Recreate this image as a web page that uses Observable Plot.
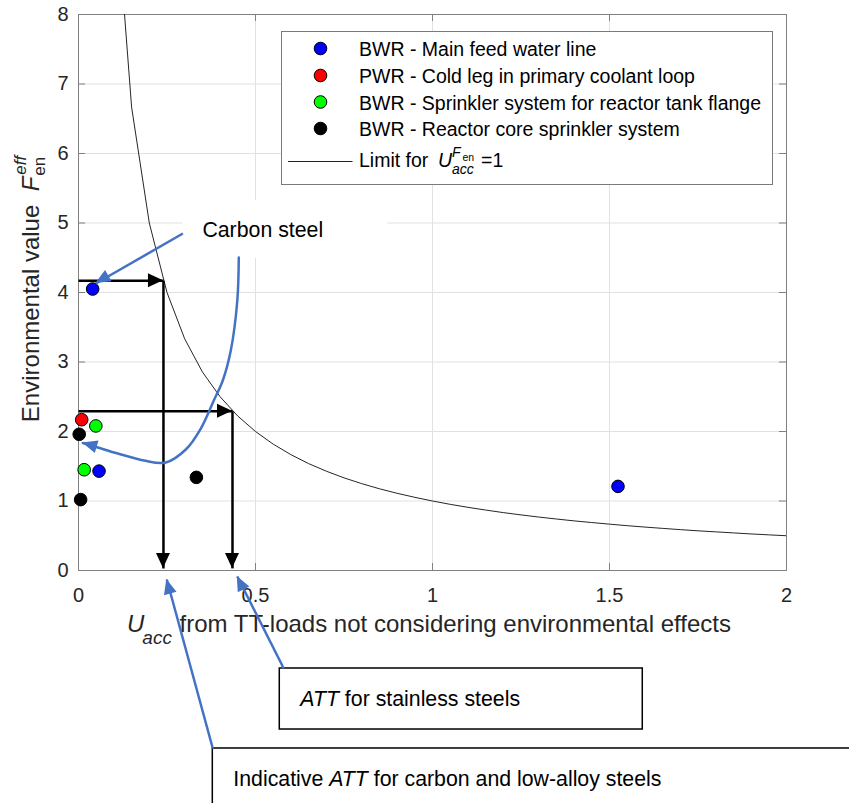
<!DOCTYPE html>
<html>
<head>
<meta charset="utf-8">
<script src="https://cdn.jsdelivr.net/npm/d3@7"></script>
<script src="https://cdn.jsdelivr.net/npm/@observablehq/plot@0.6"></script>
<style>
  html, body { margin: 0; padding: 0; background: #fff; overflow: hidden; }
  #chart { position: relative; width: 849px; height: 803px; overflow: hidden; }
  #chart svg { display: block; max-width: none; }
</style>
</head>
<body>
<div id="chart"></div>
<script>
const FONT = "'Liberation Sans', Arial, Helvetica, sans-serif";

// ---------- data ----------
const seriesNames = [
  "BWR - Main feed water line",
  "PWR - Cold leg in primary coolant loop",
  "BWR - Sprinkler system for reactor tank flange",
  "BWR - Reactor core sprinkler system"
];
const seriesColors = ["#0000ff", "#ff0000", "#00ff00", "#000000"];

const bwrFeedU = [0.040, 0.058, 1.524];
const bwrFeedF = [4.05, 1.43, 1.21];
const pwrColdU = [0.009];
const pwrColdF = [2.17];
const bwrFlangeU = [0.049, 0.016];
const bwrFlangeF = [2.08, 1.45];
const bwrCoreU = [0.002, 0.006, 0.333];
const bwrCoreF = [1.96, 1.02, 1.34];

// Limit curve U * F = 1 (as sampled in the original figure)
const limitU = [0.10,0.15,0.20,0.25,0.30,0.35,0.40,0.45,0.50,0.55,0.60,0.65,0.70,0.75,0.80,0.85,0.90,0.95,1.00,
                1.05,1.10,1.15,1.20,1.25,1.30,1.35,1.40,1.45,1.50,1.55,1.60,1.65,1.70,1.75,1.80,1.85,1.90,1.95,2.00];
const limitF = [10,6.667,5,4,3.333,2.857,2.5,2.222,2,1.818,1.667,1.538,1.429,1.333,1.25,1.176,1.111,1.053,1,
                0.952,0.909,0.870,0.833,0.8,0.769,0.741,0.714,0.690,0.667,0.645,0.625,0.606,0.588,0.571,0.556,0.541,0.526,0.513,0.5];

// ATT points on the limit curve (carbon steel, stainless steel)
const attU = [0.24, 0.435];
const attF = [4.17, 2.29];

// ticks
const xTicks = [0, 0.5, 1, 1.5, 2];
const xTickLabels = ["0", "0.5", "1", "1.5", "2"];
const yTicks = [0, 1, 2, 3, 4, 5, 6, 7, 8];

// ---------- annotation geometry (data units) ----------
const carbonBox = {x1: 0.2946, x2: 0.8737, y1: 5.324, y2: 4.489};
const stainlessBox = {x1: 0.5686, x2: 1.594, y1: -1.410, y2: -2.288};
const indicativeBox = {x1: 0.3794, x2: 2.25, y1: -2.561, y2: -3.70};
const blueStraight = [
  {x1: 0.2949, y1: 4.849, x2: 0.0489, y2: 4.129},   // Carbon steel -> point
  {x1: 0.5799, y1: -1.410, x2: 0.4486, y2: -0.086}, // stainless box -> axis
  {x1: 0.3794, y1: -2.561, x2: 0.2494, y2: -0.130}  // indicative box -> axis
];
const blueCurveU = [0.4528,0.4486,0.4302,0.4076,0.3822,0.3455,0.3031,0.2466,0.1845,0.1110,0.0545,0.0121];
const blueCurveF = [4.504,3.885,3.165,2.734,2.446,2.043,1.741,1.554,1.583,1.683,1.770,1.835];

// ---------- tables ----------
const seriesU = [bwrFeedU, pwrColdU, bwrFlangeU, bwrCoreU];
const seriesF = [bwrFeedF, pwrColdF, bwrFlangeF, bwrCoreF];
const points = seriesNames.flatMap((s, i) => seriesU[i].map((u, j) => ({series: s, u, f: seriesF[i][j]})));
const limit = limitU.map((u, i) => ({u, f: limitF[i]}));
const att = attU.map((u, i) => ({u, f: attF[i]}));
const blueCurve = blueCurveU.map((u, i) => ({u, f: blueCurveF[i]}));

const BLUE = "#4472c4";

function sx(scales) { return typeof scales.x === "function" ? scales.x : (v) => scales.scales.x.apply(v); }
function sy(scales) { return typeof scales.y === "function" ? scales.y : (v) => scales.scales.y.apply(v); }

function heads(list, color, len, halfW) {
  return (index, scales) => {
    const X = sx(scales), Y = sy(scales);
    const g = d3.create("svg:g").attr("fill", color).attr("stroke", "none");
    for (const h of list) {
      const tx = X(h.x2), ty = Y(h.y2), fx = X(h.x1), fy = Y(h.y1);
      const dx = tx - fx, dy = ty - fy, L = Math.hypot(dx, dy);
      const ux = dx / L, uy = dy / L;
      const bx = tx - ux * len, by = ty - uy * len;
      g.append("path").attr("d",
        `M${tx},${ty}L${bx - uy * halfW},${by + ux * halfW}L${bx + uy * halfW},${by - ux * halfW}Z`);
    }
    return g.node();
  };
}

const blackHeads = [
  ...att.map(d => ({x1: 0, y1: d.f, x2: d.u, y2: d.f})),
  ...att.map(d => ({x1: d.u, y1: d.f, x2: d.u, y2: 0.03}))
];
const n = blueCurve.length;
const blueHeadList = [
  ...blueStraight,
  {x1: blueCurve[n - 2].u, y1: blueCurve[n - 2].f, x2: blueCurve[n - 1].u, y2: blueCurve[n - 1].f}
];

// legend + axis labels (layout in pixels)
function legendAndLabels() {
  const g = d3.create("svg:g").attr("font-family", FONT).attr("fill", "#000")
    .attr("text-anchor", "start").style("text-anchor", "start");
  // legend box
  g.append("rect").attr("x", 281.5).attr("y", 31.5).attr("width", 491).attr("height", 153)
    .attr("fill", "#fff").attr("stroke", "#7a7a7a").attr("stroke-width", 1);
  const baselines = [56, 83, 109.5, 136];
  seriesNames.forEach((s, i) => {
    g.append("circle").attr("cx", 320.5).attr("cy", baselines[i] - 7.5).attr("r", 6.3)
      .attr("fill", seriesColors[i]).attr("stroke", "#000").attr("stroke-width", 1);
    g.append("text").attr("x", 359).attr("y", baselines[i]).attr("font-size", 19.5).text(s);
  });
  g.append("line").attr("x1", 288).attr("x2", 352.5).attr("y1", 161.5).attr("y2", 161.5)
    .attr("stroke", "#222").attr("stroke-width", 1);
  g.append("text").attr("x", 359).attr("y", 167).attr("font-size", 19.5).text("Limit for");
  g.append("text").attr("x", 438).attr("y", 167).attr("font-size", 19.5).attr("font-style", "italic").text("U");
  g.append("text").attr("x", 452).attr("y", 157).attr("font-size", 14).attr("font-style", "italic").text("F");
  g.append("text").attr("x", 462.5).attr("y", 161).attr("font-size", 10.5).text("en");
  g.append("text").attr("x", 452).attr("y", 174).attr("font-size", 14).attr("font-style", "italic").text("acc");
  g.append("text").attr("x", 481).attr("y", 167).attr("font-size", 19.5).text("=1");

  // y label
  const yl = g.append("text").attr("transform", "translate(39,289) rotate(-90)")
    .attr("text-anchor", "middle").style("text-anchor", "middle").attr("font-size", 24).attr("fill", "#262626");
  yl.append("tspan").text("Environmental value\u00a0\u00a0");
  yl.append("tspan").attr("font-style", "italic").text("F");
  yl.append("tspan").attr("font-size", 17).attr("dx", 1).attr("dy", 6).text("en");
  yl.append("tspan").attr("font-size", 17).attr("font-style", "italic").attr("dx", -18).attr("dy", -19).text("eff");

  // x label
  const xl = g.append("text").attr("x", 127).attr("y", 632).attr("font-size", 24).attr("fill", "#262626");
  xl.append("tspan").attr("font-style", "italic").text("U");
  xl.append("tspan").attr("font-style", "italic").attr("font-size", 19).attr("dy", 12).attr("dx", -2).text("acc");
  xl.append("tspan").attr("dy", -12).attr("dx", 1).text(" from TT-loads not considering environmental effects");
  return g.node();
}

function annotationTexts(index, scales) {
  const X = sx(scales), Y = sy(scales);
  const g = d3.create("svg:g").attr("font-family", FONT).attr("fill", "#000").attr("font-size", 21.3)
    .attr("text-anchor", "start").style("text-anchor", "start");
  g.append("text").attr("x", X(0.3514)).attr("y", Y(4.791)).text("Carbon steel");
  const t1 = g.append("text").attr("x", X(0.628)).attr("y", Y(-1.957));
  t1.append("tspan").attr("font-style", "italic").text("ATT");
  t1.append("tspan").text(" for stainless steels");
  const t2 = g.append("text").attr("x", X(0.4387)).attr("y", Y(-3.108));
  t2.append("tspan").text("Indicative ");
  t2.append("tspan").attr("font-style", "italic").text("ATT");
  t2.append("tspan").text(" for carbon and low-alloy steels");
  return g.node();
}

const chart = Plot.plot({
  width: 849,
  height: 803,
  marginLeft: 78,
  marginRight: 63,
  marginTop: 14,
  marginBottom: 233,
  style: {fontFamily: FONT, fontSize: "20px", color: "#262626", background: "#fff"},
  x: {domain: [0, 2], ticks: xTicks, tickFormat: d => xTickLabels[xTicks.indexOf(d)], tickSize: 0, tickPadding: 17, label: null},
  y: {domain: [0, 8], ticks: yTicks, tickSize: 0, tickPadding: 10, label: null},
  color: {domain: seriesNames, range: seriesColors},
  marks: [
    // grid
    Plot.ruleX(xTicks, {stroke: "#e1e1e1", strokeWidth: 1}),
    Plot.ruleY(yTicks, {stroke: "#e1e1e1", strokeWidth: 1}),
    // inward ticks
    Plot.ruleX(xTicks, {y1: 0, y2: 0.1, stroke: "#808080"}),
    Plot.ruleX(xTicks, {y1: 8, y2: 7.9, stroke: "#808080"}),
    Plot.ruleY(yTicks, {x1: 0, x2: 0.02, stroke: "#808080"}),
    Plot.ruleY(yTicks, {x1: 2, x2: 1.98, stroke: "#808080"}),
    Plot.frame({stroke: "#808080", strokeWidth: 1}),
    // limit curve
    Plot.line(limit, {x: "u", y: "f", stroke: "#262626", strokeWidth: 1, clip: true}),
    // data points
    Plot.dot(points, {x: "u", y: "f", fill: "series", stroke: "#000", strokeWidth: 1, r: 6.3}),
    // legend & axis labels
    legendAndLabels,
    // black ATT arrows
    Plot.link(att, {x1: 0, y1: "f", x2: "u", y2: "f", stroke: "#000", strokeWidth: 2.5}),
    Plot.link(att, {x1: "u", y1: "f", x2: "u", y2: 0.03, stroke: "#000", strokeWidth: 2.5}),
    heads(blackHeads, "#000", 15, 7),
    // white label box for "Carbon steel"
    Plot.rect([carbonBox], {x1: "x1", x2: "x2", y1: "y1", y2: "y2", fill: "#fff"}),
    // bottom boxes
    Plot.rect([stainlessBox], {x1: "x1", x2: "x2", y1: "y1", y2: "y2", fill: "#fff", stroke: "#000", strokeWidth: 1.5}),
    Plot.rect([indicativeBox], {x1: "x1", x2: "x2", y1: "y1", y2: "y2", fill: "#fff", stroke: "#000", strokeWidth: 1.5}),
    // blue arrows
    Plot.link(blueStraight, {x1: "x1", y1: "y1", x2: "x2", y2: "y2", stroke: BLUE, strokeWidth: 2.5}),
    Plot.line(blueCurve, {x: "u", y: "f", stroke: BLUE, strokeWidth: 2.5, curve: "catmull-rom"}),
    heads(blueHeadList, BLUE, 15, 6.5),
    annotationTexts
  ]
});

document.getElementById("chart").appendChild(chart);
</script>
</body>
</html>
